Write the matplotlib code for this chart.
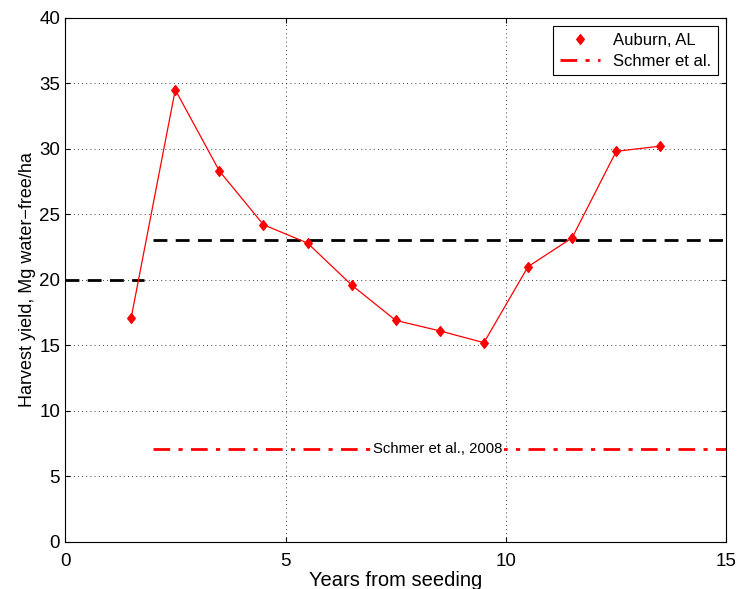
import numpy as np
import matplotlib.pyplot as plt
from matplotlib.path import Path

plt.rcParams['font.family'] = ['Liberation Sans', 'DejaVu Sans']

years = [1.5, 2.5, 3.5, 4.5, 5.5, 6.5, 7.5, 8.5, 9.5, 10.5, 11.5, 12.5, 13.5]
yields = [17.1, 34.5, 28.3, 24.2, 22.8, 19.6, 16.9, 16.1, 15.2, 21.0, 23.2, 29.8, 30.2]

ref_early_x = [0, 1.8]
ref_early_y = [20, 20]
ref_late_x = [2.0, 15]
ref_late_y = [23, 23]
schmer_x = [2.0, 15]
schmer_y = [7.1, 7.1]

# diamond a bit narrower than tall, like matlab's 'd'
diamond = Path([(0, 1), (0.78, 0), (0, -1), (-0.78, 0), (0, 1)],
               [Path.MOVETO, Path.LINETO, Path.LINETO, Path.LINETO, Path.CLOSEPOLY])

fig = plt.figure(figsize=(7.39, 5.89), dpi=100)
ax = fig.add_axes([0.088, 0.08, 0.895, 0.89])

ax.plot(ref_early_x, ref_early_y, color='black', linestyle=(0, (5, 3)), linewidth=2)
ax.plot(ref_late_x, ref_late_y, color='black', linestyle=(0, (5, 3)), linewidth=2)
ax.plot(years, yields, color='red', linewidth=0.9)
ax.plot(years, yields, linestyle='none', marker=diamond, markersize=7,
        markerfacecolor='red', markeredgecolor='red', label='Auburn, AL')
ax.plot(schmer_x, schmer_y, color='red', linestyle=(0, (6, 3, 1.5, 3)), linewidth=2,
        label='Schmer et al.')
ax.text(8.45, 7.1, 'Schmer et al., 2008', fontsize=10.7, ha='center', va='center',
        bbox=dict(facecolor='white', edgecolor='none', pad=1))

ax.set_xlim(0, 15)
ax.set_ylim(0, 40)
ax.set_xticks([0, 5, 10, 15])
ax.set_yticks(np.arange(0, 41, 5))
ax.grid(True, linestyle=(0, (1, 4)), color='black', linewidth=0.6)
ax.tick_params(direction='in', top=True, right=True, labelsize=13.5)
ax.tick_params(axis='x', pad=8)
ax.set_xlabel('Years from seeding', fontsize=14.5, labelpad=0)
ax.xaxis.set_label_coords(0.5, -0.055)
ax.xaxis.label.set_va('top')
ax.set_ylabel('Harvest yield, Mg water\u2212free/ha', fontsize=13, labelpad=2)
leg = ax.legend(loc='upper right', fontsize=12, fancybox=False, framealpha=1,
                edgecolor='black', handlelength=2.4, borderaxespad=0.5,
                labelspacing=0.35)
leg.get_frame().set_linewidth(0.8)

fig.savefig('out.png', dpi=100)
